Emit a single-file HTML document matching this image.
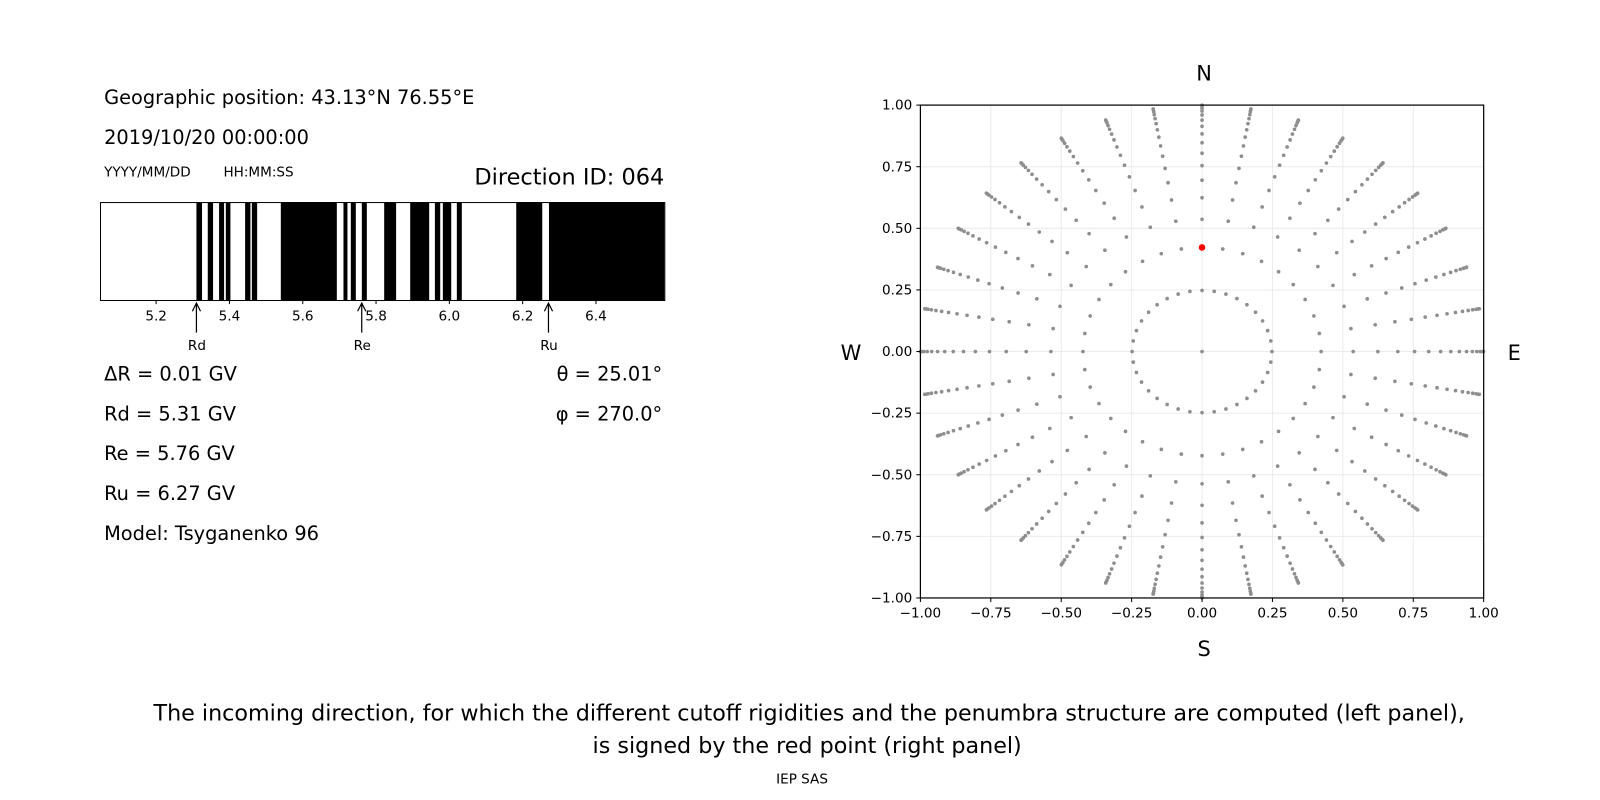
<!DOCTYPE html>
<html><head><meta charset="utf-8"><style>
html,body{margin:0;padding:0;background:#fff}
svg{display:block;font-family:"DejaVu Sans","Liberation Sans",sans-serif}
</style></head><body>
<svg id="s" width="1600" height="800" viewBox="0 0 1568 784" xmlns="http://www.w3.org/2000/svg">
<rect width="1568" height="784" fill="#fff"/>
<g font-size="19" fill="#000">
<text x="102" y="102">Geographic position: 43.13°N 76.55°E</text>
<text x="102" y="141">2019/10/20 00:00:00</text>
<text x="102" y="173" font-size="13.3">YYYY/MM/DD</text>
<text x="219" y="173" font-size="13.3">HH:MM:SS</text>
<text x="651" y="181" font-size="22" text-anchor="end">Direction ID: 064</text>
<text x="102" y="373">ΔR = 0.01 GV</text>
<text x="102" y="412">Rd = 5.31 GV</text>
<text x="102" y="451">Re = 5.76 GV</text>
<text x="102" y="490">Ru = 6.27 GV</text>
<text x="102" y="529">Model: Tsyganenko 96</text>
<text x="649" y="373" text-anchor="end">θ = 25.01°</text>
<text x="649" y="412" text-anchor="end">φ = 270.0°</text>
</g>
<g id="bars" fill="#000"></g>
<rect x="98.5" y="198.5" width="553" height="96" fill="none" stroke="#000" stroke-width="1"/>
<g font-size="13.3" text-anchor="middle" id="bt"></g>
<g stroke="#000" stroke-width="1.2" fill="none">
<path d="M192.5 326V298M188.5 305L192.5 297L196.5 305"/>
<path d="M354.5 326V298M350.5 305L354.5 297L358.5 305"/>
<path d="M537.5 326V298M533.5 305L537.5 297L541.5 305"/>
</g>
<g font-size="13.3" text-anchor="middle">
<text x="193" y="343">Rd</text><text x="355" y="343">Re</text><text x="538" y="343">Ru</text>
</g>
<g id="grid" stroke="#ebebeb" stroke-width="1"></g>
<g id="dots" fill="#8e8e8e"></g>
<circle cx="1178" cy="242.5" r="3.2" fill="#ff0000"/>
<rect x="902" y="103" width="552" height="483" fill="none" stroke="#000" stroke-width="1.2"/>
<g id="ax" font-size="13.3"></g>
<g font-size="20.5" text-anchor="middle">
<text x="1180" y="79">N</text><text x="1180" y="643">S</text>
<text x="834" y="353">W</text><text x="1484" y="353">E</text>
</g>
<g font-size="21.8" text-anchor="middle">
<text x="793" y="706">The incoming direction, for which the different cutoff rigidities and the penumbra structure are computed (left panel),</text>
<text x="791" y="738">is signed by the red point (right panel)</text>
</g>
<text x="786" y="768" font-size="13.3" text-anchor="middle">IEP SAS</text>
</svg>
<script>
var NS="http://www.w3.org/2000/svg";
function el(p,t,a,txt){var e=document.createElementNS(NS,t);for(var k in a)e.setAttribute(k,a[k]);if(txt!=null)e.textContent=txt;document.getElementById(p).appendChild(e);}
var segs=[[192.5,198],[203.6,208.8],[214.7,219.6],[221.3,225.8],[240.2,245.4],[246.8,252],[275.2,330.1],[336.6,340.5],[343.8,348.7],[354.6,359.5],[376.5,388.2],[402,420.6],[426.2,431.4],[434,442.2],[447.7,452.6],[505.9,531.4],[538,651]];
segs.forEach(function(s){el("bars","rect",{x:s[0],y:198,width:s[1]-s[0],height:96});});
[5.2,5.4,5.6,5.8,6.0,6.2,6.4].forEach(function(v){var x=153+(v-5.2)*359.2;el("bt","line",{x1:x,x2:x,y1:294,y2:298,stroke:"#000"});el("bt","text",{x:x,y:314},v.toFixed(1));});
var cx=1178,cy=344.5,sx=276,sy=241.5;
for(var i=0;i<9;i++){var v=-1+i*0.25,x=cx+v*sx,y=cy-v*sy;
 if(i>0&&i<8){el("grid","line",{x1:x,x2:x,y1:103,y2:586});el("grid","line",{x1:902,x2:1454,y1:y,y2:y});}
 el("ax","line",{x1:x,x2:x,y1:586,y2:590,stroke:"#000"});el("ax","text",{x:x,y:605,"text-anchor":"middle"},v.toFixed(2).replace("-","−"));
 el("ax","line",{x1:898,x2:902,y1:y,y2:y,stroke:"#000"});el("ax","text",{x:894,y:y+4.5,"text-anchor":"end"},v.toFixed(2).replace("-","−"));}
el("dots","circle",{cx:cx,cy:cy,r:1.8});
for(var k=0;k<16;k++){var c=1-(k+0.5)/16,r=Math.sqrt(1-c*c);
 for(var a=0;a<36;a++){var t=a*Math.PI/18;var x=cx+r*Math.sin(t)*sx,y=cy-r*Math.cos(t)*sy;
  if(k==1&&a==0)continue;el("dots","circle",{cx:x.toFixed(1),cy:y.toFixed(1),r:1.8});}}
</script>
</body></html>
